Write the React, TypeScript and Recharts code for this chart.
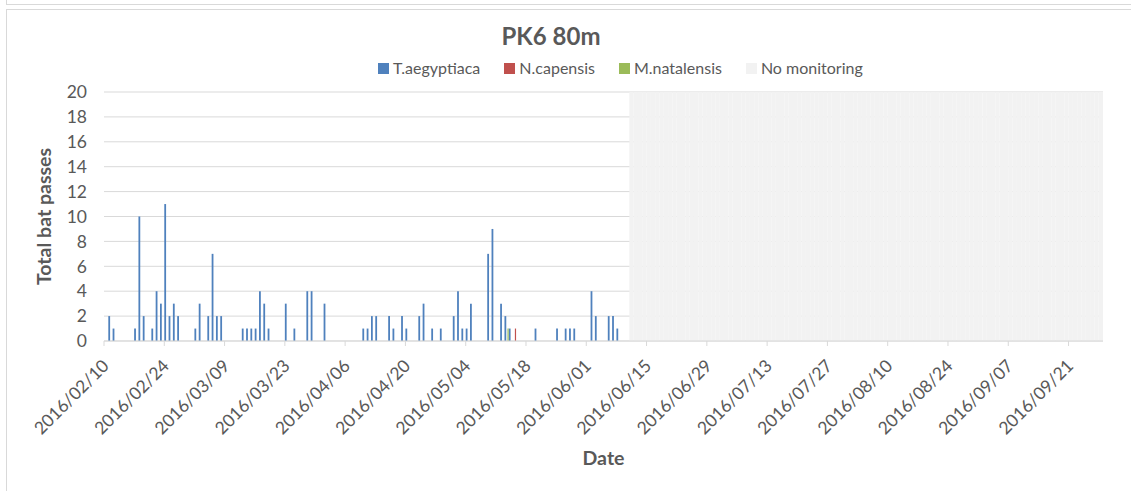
import React from 'react';
import { BarChart, Bar, XAxis, YAxis, CartesianGrid, Legend } from 'recharts';

// daily categories, 2016/02/10 .. 2016/09/28
const FIRST_DAY = Date.UTC(2016, 1, 10);
const DAY_COUNT = 232;

const xTicks = [
	'2016/02/10', '2016/02/24', '2016/03/09', '2016/03/23', '2016/04/06', '2016/04/20',
	'2016/05/04', '2016/05/18', '2016/06/01', '2016/06/15', '2016/06/29', '2016/07/13',
	'2016/07/27', '2016/08/10', '2016/08/24', '2016/09/07', '2016/09/21'
];
const yTicks = [0, 2, 4, 6, 8, 10, 12, 14, 16, 18, 20];

// nights with passes: [date, passes]
const aegyptiaca: [string, number][] = [
	['2016/02/11', 2], ['2016/02/12', 1], ['2016/02/17', 1], ['2016/02/18', 10], ['2016/02/19', 2],
	['2016/02/21', 1], ['2016/02/22', 4], ['2016/02/23', 3], ['2016/02/24', 11], ['2016/02/25', 2],
	['2016/02/26', 3], ['2016/02/27', 2], ['2016/03/02', 1], ['2016/03/03', 3], ['2016/03/05', 2],
	['2016/03/06', 7], ['2016/03/07', 2], ['2016/03/08', 2], ['2016/03/13', 1], ['2016/03/14', 1],
	['2016/03/15', 1], ['2016/03/16', 1], ['2016/03/17', 4], ['2016/03/18', 3], ['2016/03/19', 1],
	['2016/03/23', 3], ['2016/03/25', 1], ['2016/03/28', 4], ['2016/03/29', 4], ['2016/04/01', 3],
	['2016/04/10', 1], ['2016/04/11', 1], ['2016/04/12', 2], ['2016/04/13', 2], ['2016/04/16', 2],
	['2016/04/17', 1], ['2016/04/19', 2], ['2016/04/20', 1], ['2016/04/23', 2], ['2016/04/24', 3],
	['2016/04/26', 1], ['2016/04/28', 1], ['2016/05/01', 2], ['2016/05/02', 4], ['2016/05/03', 1],
	['2016/05/04', 1], ['2016/05/05', 3], ['2016/05/09', 7], ['2016/05/10', 9], ['2016/05/12', 3],
	['2016/05/13', 2], ['2016/05/14', 1], ['2016/05/20', 1], ['2016/05/25', 1], ['2016/05/27', 1],
	['2016/05/28', 1], ['2016/05/29', 1], ['2016/06/02', 4], ['2016/06/03', 2], ['2016/06/06', 2],
	['2016/06/07', 2], ['2016/06/08', 1]
];
const capensis: [string, number][] = [['2016/05/15', 1]];
const natalensis: [string, number][] = [['2016/05/13', 1]];

// detector off from this night to the end of the axis
const noMonitoringFrom = '2016/06/11';
const noMonitoringLevel = 20;

const seriesOrder = ['aegyptiaca', 'capensis', 'natalensis', 'noMonitoring'];

const fmtDay = (t: number) => {
	const d = new Date(t);
	const mm = String(d.getUTCMonth() + 1).padStart(2, '0');
	const dd = String(d.getUTCDate()).padStart(2, '0');
	return `${d.getUTCFullYear()}/${mm}/${dd}`;
};

const dates = Array.from({ length: DAY_COUNT }, (_, i) => fmtDay(FIRST_DAY + i * 86400000));

const aegMap = new Map(aegyptiaca);
const capMap = new Map(capensis);
const natMap = new Map(natalensis);

const data = dates.map((date) => ({
	date,
	aegyptiaca: aegMap.get(date),
	capensis: capMap.get(date),
	natalensis: natMap.get(date),
	noMonitoring: date >= noMonitoringFrom ? noMonitoringLevel : undefined,
}));

const TEXT = '#595959';
const GRID = '#d9d9d9';

const DateTick = ({ x, y, payload }: any) => {
	const half = payload?.offset ?? 0;
	const tx = x - half;
	const axisY = y - 7;
	const ax = tx + 6;
	const ay = axisY + 26;
	return (
		<g>
			<line x1={tx} x2={tx} y1={axisY} y2={axisY + 5} stroke={GRID} />
			<text x={ax} y={ay} transform={`rotate(-45, ${ax}, ${ay})`} textAnchor="end" fill={TEXT} fontSize={17.5}>
				{payload.value}
			</text>
		</g>
	);
};

const LegendContent = ({ payload }: any) => {
	const items = seriesOrder
		.map((k) => (payload || []).find((p: any) => p.dataKey === k))
		.filter(Boolean);
	return (
		<div style={{ display: 'flex', alignItems: 'center', fontSize: 16, lineHeight: '16px', color: TEXT, whiteSpace: 'nowrap' }}>
			{items.map((p: any) => (
				<div key={p.value} style={{ display: 'flex', alignItems: 'center', marginRight: 24 }}>
					<span style={{ display: 'inline-block', width: 11, height: 11, marginRight: 4, background: p.color || p.payload?.fill }} />
					<span>{p.value}</span>
				</div>
			))}
		</div>
	);
};

export default function App() {
	return (
		<div style={{ position: 'relative', width: 1131, height: 491, fontFamily: 'Lato, sans-serif', background: '#fff' }}>
			<style>{'body{margin:0}'}</style>
			<BarChart
				width={1131}
				height={491}
				data={data}
				barGap={0}
				margin={{ top: 92, right: 28, left: 0, bottom: 0 }}
			>
				<CartesianGrid vertical={false} stroke={GRID} />
				<XAxis
					xAxisId="main"
					dataKey="date"
					ticks={xTicks}
					interval={0}
					height={150}
					stroke={GRID}
					tickLine={false}
					tickSize={5}
					tickMargin={2}
					tick={<DateTick />}
					label={{
						value: 'Date',
						position: 'insideBottom',
						offset: 26,
						style: { fontSize: 19.5, fontWeight: 700, fill: TEXT },
					}}
				/>
				<XAxis xAxisId="nm" dataKey="date" hide />
				<YAxis
					domain={[0, 20]}
					ticks={yTicks}
					interval={0}
					width={104}
					axisLine={false}
					tickLine={false}
					tickSize={0}
					tickMargin={17}
					tick={{ fill: TEXT, fontSize: 17.5 }}
					label={{
						value: 'Total bat passes',
						angle: -90,
						position: 'insideLeft',
						offset: 44,
						style: { textAnchor: 'middle', fontSize: 19.5, fontWeight: 700, fill: TEXT },
					}}
				/>
				<Legend
					layout="horizontal"
					verticalAlign="middle"
					align="center"
					content={<LegendContent />}
					wrapperStyle={{ top: 60, left: 378, width: 'auto', height: 16 }}
				/>
				<Bar xAxisId="main" dataKey="aegyptiaca" name="T.aegyptiaca" fill="#4F81BD" barSize={1.8} isAnimationActive={false} />
				<Bar xAxisId="main" dataKey="capensis" name="N.capensis" fill="#C0504D" barSize={1.2} isAnimationActive={false} />
				<Bar xAxisId="main" dataKey="natalensis" name="M.natalensis" fill="#9BBB59" barSize={1.2} isAnimationActive={false} />
				<Bar xAxisId="nm" dataKey="noMonitoring" name="No monitoring" fill="#F2F2F2" barSize={4.3} isAnimationActive={false} />
			</BarChart>
			<div style={{ position: 'absolute', left: 451, top: 24, width: 200, textAlign: 'center', fontSize: 24, lineHeight: '24px', fontWeight: 700, color: TEXT }}>
				PK6 80m
			</div>
			<div style={{ position: 'absolute', left: 6, top: 0, right: 0, height: 4, borderLeft: `1px solid ${GRID}`, borderBottom: `1px solid ${GRID}` }} />
			<div style={{ position: 'absolute', left: 6, top: 9, right: 0, bottom: 0, borderLeft: `1px solid ${GRID}`, borderTop: `1px solid ${GRID}`, pointerEvents: 'none' }} />
		</div>
	);
}
